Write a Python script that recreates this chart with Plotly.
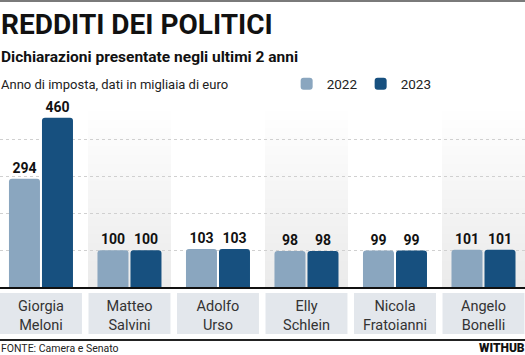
import plotly.graph_objects as go

# ---- data ----
politici = ["Giorgia<br>Meloni", "Matteo<br>Salvini", "Adolfo<br>Urso",
            "Elly<br>Schlein", "Nicola<br>Fratoianni", "Angelo<br>Bonelli"]
redditi_2022 = [294, 100, 103, 98, 99, 101]
redditi_2023 = [460, 100, 103, 98, 99, 101]
anni = ["2022", "2023"]
colori = ["#8aa6bf", "#17507f"]

FONT = "Roboto, sans-serif"

W, H = 525, 355
T, B = 103, 287  # plot area top/bottom in px


def py(pix):
    return (B - pix) / (B - T)


fig = go.Figure()
for anno, vals, col in zip(anni, [redditi_2022, redditi_2023], colori):
    fig.add_trace(go.Bar(
        x=politici, y=vals, name=anno,
        marker=dict(color=col, line=dict(width=0), cornerradius=3),
        text=[str(v) for v in vals], textposition="outside",
        textfont=dict(family=FONT, size=14, color="#111", weight="bold"),
        cliponaxis=False, constraintext="none", hoverinfo="skip",
    ))

shapes = []
n = len(politici)
# alternating gradient columns
for i in range(1, n, 2):
    steps = 20
    for k in range(1, steps + 1):
        shapes.append(dict(type="rect", xref="x", yref="y", layer="below",
                           x0=i - 0.475, x1=i + 0.475, y0=0, y1=480 * k / steps,
                           fillcolor="rgba(0,0,0,0.0045)", line=dict(width=0)))
# label boxes
for i in range(n):
    shapes.append(dict(type="rect", xref="x", yref="paper", layer="below",
                       x0=i - 0.463, x1=i + 0.463, y0=py(334), y1=py(293),
                       fillcolor="#e3e7ec", line=dict(width=0)))
# top rule and bottom rule
shapes.append(dict(type="line", xref="paper", yref="paper", x0=0, x1=1,
                   y0=py(1), y1=py(1), line=dict(color="#7a7a7a", width=2)))
shapes.append(dict(type="line", xref="paper", yref="paper", x0=0, x1=1,
                   y0=py(340), y1=py(340), line=dict(color="#222", width=2)))

annotations = [
    dict(text="<b>REDDITI DEI POLITICI</b>", x=0, y=py(24.5), xref="paper", yref="paper",
         xanchor="left", yanchor="middle", showarrow=False, xshift=-1,
         font=dict(family=FONT, size=28, color="#111")),
    dict(text="<b>Dichiarazioni presentate negli ultimi 2 anni</b>", x=0, y=py(57),
         xref="paper", yref="paper", xanchor="left", yanchor="middle", showarrow=False,
         xshift=-1, font=dict(family=FONT, size=15.5, color="#111")),
    dict(text="Anno di imposta, dati in migliaia di euro", x=0, y=py(84),
         xref="paper", yref="paper", xanchor="left", yanchor="middle", showarrow=False,
         xshift=-1, font=dict(family=FONT, size=13, color="#222")),
    dict(text="FONTE: Camera e Senato", x=0, y=py(348), xref="paper", yref="paper",
         xanchor="left", yanchor="middle", showarrow=False, xshift=-1,
         font=dict(family=FONT, size=10.5, color="#222")),
    dict(text="WITHUB", x=1, y=py(348), xref="paper", yref="paper",
         xanchor="right", yanchor="middle", showarrow=False, xshift=2,
         font=dict(family=FONT, size=12, color="#111", weight=900)),
]

fig.update_layout(
    width=W, height=H,
    margin=dict(l=0, r=0, t=T, b=H - B, pad=0),
    paper_bgcolor="white", plot_bgcolor="white",
    barmode="group", bargap=0.254, bargroupgap=0.061,
    showlegend=True,
    legend=dict(orientation="h", x=0.546, xanchor="left", y=py(84), yanchor="middle",
                font=dict(family=FONT, size=13.5, color="#222"),
                bgcolor="rgba(0,0,0,0)", itemclick=False, itemdoubleclick=False,
                traceorder="normal", entrywidth=29, entrywidthmode="pixels"),
    shapes=shapes, annotations=annotations,
    xaxis=dict(type="category", range=[-0.463, 5.469], showgrid=False, zeroline=False,
               showline=True, linecolor="#111", linewidth=2, ticks="",
               tickfont=dict(family=FONT, size=14.5, color="#333"),
               ticklabelstandoff=5),
    yaxis=dict(range=[0, 500], dtick=100, showgrid=True, gridcolor="#d0d0d0",
               griddash="dot", gridwidth=1, zeroline=False, showticklabels=False,
               showline=False),
)

fig.write_html("out.html", config={"displayModeBar": False},
               post_script="document.body.style.margin='0';")
